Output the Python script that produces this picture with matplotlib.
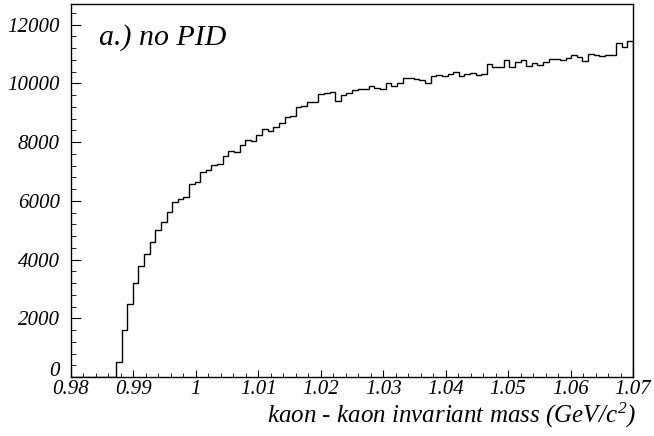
import numpy as np
import matplotlib
matplotlib.use("Agg")
import matplotlib.pyplot as plt
from matplotlib.ticker import MultipleLocator, AutoMinorLocator, FuncFormatter

# kaon-kaon invariant mass spectrum, no PID, 100 bins from 0.98 to 1.07 GeV/c^2
mass_lo = 0.98
mass_hi = 1.07
n_bins = 100
counts = [
    0, 0, 0, 0, 0, 0, 0, 0, 510, 1600,
    2485, 3210, 3790, 4190, 4580, 5000, 5276, 5628, 5968, 6060,
    6138, 6570, 6650, 6965, 7046, 7210, 7245, 7530, 7700, 7675,
    7895, 8075, 8030, 8225, 8440, 8370, 8500, 8635, 8840, 8895,
    9180, 9235, 9360, 9370, 9620, 9667, 9700, 9385, 9610, 9680,
    9760, 9815, 9790, 9895, 9830, 9805, 10000, 9918, 10000, 10170,
    10190, 10155, 10100, 10020, 10260, 10270, 10245, 10300, 10380, 10260,
    10325, 10340, 10290, 10320, 10660, 10540, 10550, 10810, 10560, 10720,
    10810, 10585, 10690, 10630, 10710, 10830, 10825, 10780, 10870, 10950,
    10895, 10760, 10985, 10970, 10940, 10960, 10970, 11380, 11235, 11450,
]
x_ticks = [0.98, 0.99, 1.0, 1.01, 1.02, 1.03, 1.04, 1.05, 1.06, 1.07]
x_tick_labels = ["0.98", "0.99", "1", "1.01", "1.02", "1.03", "1.04", "1.05", "1.06", "1.07"]
title_text = "a.) no PID"
x_title = "kaon - kaon invariant mass (GeV/$c^{2}$)"

plt.rcParams['font.family'] = ['Liberation Serif', 'DejaVu Serif']
plt.rcParams['font.style'] = 'italic'
plt.rcParams['mathtext.fontset'] = 'custom'
plt.rcParams['mathtext.it'] = 'Liberation Serif:italic'
plt.rcParams['mathtext.rm'] = 'Liberation Serif:italic'

fig = plt.figure(figsize=(6.54, 4.36), dpi=100)
ax = fig.add_axes([71 / 654, 59 / 436, 562 / 654, 373 / 436])

edges = np.linspace(mass_lo, mass_hi, n_bins + 1)
ax.stairs(counts, edges, color='black', linewidth=1.0)

ax.set_xlim(mass_lo, mass_hi)
ax.set_ylim(0, 12700)
ax.set_xticks(x_ticks)
ax.set_xticklabels(x_tick_labels)
ax.yaxis.set_major_locator(MultipleLocator(2000))
# the zero label is drawn separately, nudged up so it clears "0.98"
ax.yaxis.set_major_formatter(FuncFormatter(lambda v, pos: '' if v == 0 else f'{v:.0f}'))
ax.xaxis.set_minor_locator(AutoMinorLocator(5))
ax.yaxis.set_minor_locator(AutoMinorLocator(5))

ax.tick_params(which='both', direction='in', top=False, right=False, labelsize=15)
ax.tick_params(axis='x', which='major', length=5, pad=2.5)
ax.tick_params(axis='x', which='minor', length=3)
ax.tick_params(axis='y', which='major', length=7, pad=8)
ax.tick_params(axis='y', which='minor', length=3.5)
for lab in ax.get_xticklabels() + ax.get_yticklabels():
    lab.set_fontstyle('italic')

ax.annotate('0', xy=(0, 0), xycoords=('axes fraction', 'data'),
            xytext=(-8, 4), textcoords='offset points',
            ha='right', va='center', fontsize=15, style='italic')

for sp in ax.spines.values():
    sp.set_linewidth(1.0)

ax.text(0.05, 0.909, title_text, transform=ax.transAxes, fontsize=21.5,
        ha='left', va='center', style='italic')
ax.text(1.006, -0.104, x_title, transform=ax.transAxes, fontsize=18,
        ha='right', va='center', style='italic')

fig.savefig("out.png", dpi=100)
